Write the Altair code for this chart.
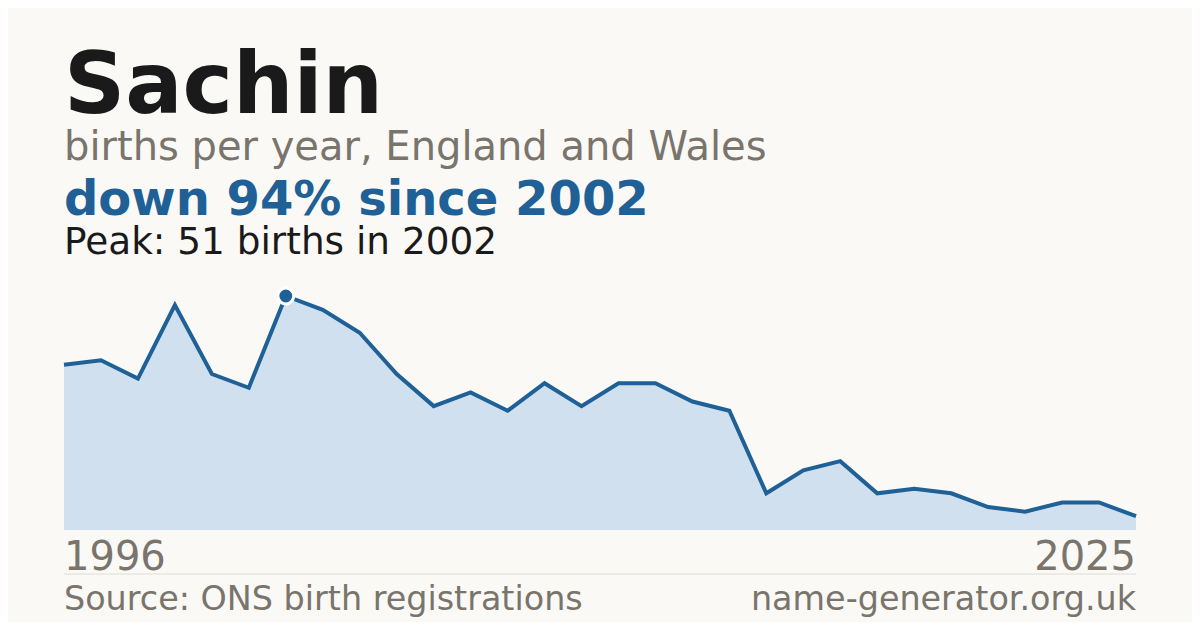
import altair as alt
import pandas as pd

years = list(range(1996, 2026))
births = [36, 37, 33, 49, 34, 31, 51, 48, 43, 34, 27, 30, 26, 32, 27,
          32, 32, 28, 26, 8, 13, 15, 8, 9, 8, 5, 4, 6, 6, 3]

title = "Sachin"
subtitle = "births per year, England and Wales"
headline = "down 94% since 2002"
peak_text = "Peak: 51 births in 2002"
source = "Source: ONS birth registrations"
site = "name-generator.org.uk"
start_label = "1996"
end_label = "2025"

BLUE = "#1f6096"
GRAY = "#79746c"
DARK = "#1a1a1a"
BG = "#faf9f5"
FONT = "DejaVu Sans"

df = pd.DataFrame({"year": years, "births": births})
peak = df[df["births"] == df["births"].max()]

W, H = 1072, 234
OY = 296  # page y of view top

x = alt.X("year:Q", scale=alt.Scale(domain=[1996, 2025], nice=False), axis=None)
y = alt.Y("births:Q", scale=alt.Scale(domain=[0, 51], nice=False, zero=True), axis=None)

base = alt.Chart(df)
area = base.mark_area(color="#d0e0ef").encode(x=x, y=y)
line = base.mark_line(color=BLUE, strokeWidth=4).encode(x=x, y=y)
pt = alt.Chart(peak).mark_point(filled=True, shape="circle", size=250, color=BLUE,
                                 stroke="white", strokeWidth=3, opacity=1).encode(x=x, y=y)

one = pd.DataFrame({"a": [0]})


def txt(s, px, py, size, color, weight="normal", align="left"):
    return alt.Chart(one).mark_text(
        text=s, font=FONT, fontSize=size, color=color, fontWeight=weight,
        align=align, baseline="alphabetic"
    ).encode(x=alt.value(px), y=alt.value(py - OY))


texts = [
    txt(title, 0, 113, 85, DARK, "bold"),
    txt(subtitle, 0, 160, 40, GRAY),
    txt(headline, 0, 215, 48, BLUE, "bold"),
    txt(peak_text, 0, 254, 37.4, DARK),
    txt(start_label, 0, 570, 40, GRAY),
    txt(end_label, W, 570, 40, GRAY, align="right"),
    txt(source, 0, 610, 33.4, GRAY),
    txt(site, W, 610, 33.4, GRAY, align="right"),
]

rule = alt.Chart(one).mark_rule(color="#e0dcd5", strokeWidth=1).encode(
    x=alt.value(0), x2=alt.value(W), y=alt.value(574 - OY))

chart = alt.layer(area, line, pt, rule, *texts).properties(
    width=W, height=H,
    padding={"left": 56, "top": 288, "right": 56, "bottom": 92},
    autosize=alt.AutoSizeParams(type="none"),
    background=BG,
).configure_view(stroke=None)

chart.save("out.html", embed_options={"renderer": "svg", "actions": False})
